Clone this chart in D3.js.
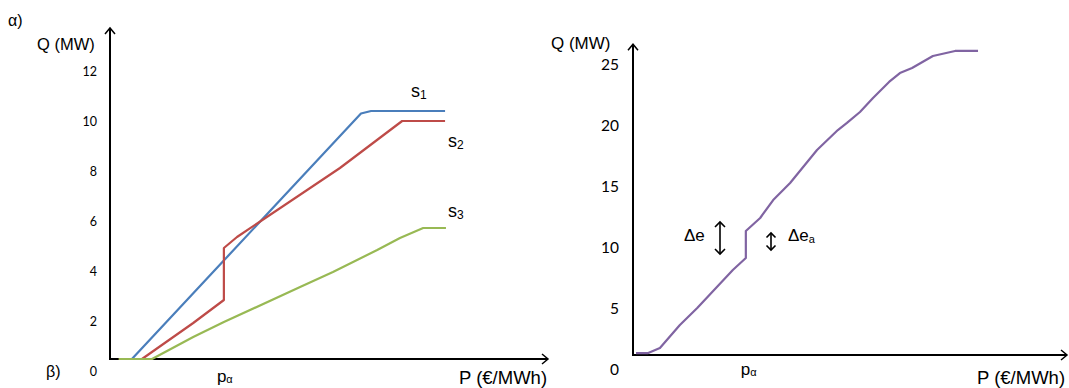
<!DOCTYPE html>
<html>
<head>
<meta charset="utf-8">
<script src="https://cdn.jsdelivr.net/npm/d3@7"></script>
<style>
  body { margin: 0; background: #fff; }
  svg { display: block; }
  .tick text { font-family: Lato, "Open Sans", sans-serif; fill: #000; }
  .lbl { font-family: "Liberation Sans", Arial, sans-serif; fill: #000; }
</style>
</head>
<body>
<svg id="chart" width="1069" height="388"></svg>
<script>
// price is in arbitrary units (no ticks on the P axis), Q in MW

// left panel: three supply curves
const s1P = [2.3, 5.0, 57.3, 59.6, 76.5];
const s1Q = [0.48, 0.48, 10.3, 10.4, 10.4];

const s2P = [2.0, 7.3, 19.0, 26.0, 26.0, 29.0, 52.5, 66.7, 76.5];
const s2Q = [0.48, 0.48, 1.92, 2.84, 4.92, 5.36, 8.12, 10.0, 10.0];

const s3P = [2.0, 9.6, 19.0, 26.0, 43.4, 50.9, 61.0, 66.2, 71.5, 76.7];
const s3Q = [0.48, 0.48, 1.36, 1.96, 3.36, 3.96, 4.84, 5.32, 5.72, 5.72];

const leftTicks = [0, 2, 4, 6, 8, 10, 12];
const leftAxisQ = 0.48; // where the P axis crosses

// right panel: aggregated curve
const aggP = [0.7, 3.5, 6.2, 10.8, 14.8, 23.0, 26.0, 26.0, 29.3, 32.3, 36.2, 42.4,
              47.2, 49.3, 52.3, 55.3, 59.0, 61.5, 64.3, 69.1, 74.2, 79.5];
const aggQ = [1.39, 1.39, 1.80, 3.69, 5.08, 8.20, 9.18, 11.39, 12.46, 13.93, 15.33, 18.03,
              19.67, 20.25, 21.15, 22.30, 23.61, 24.34, 24.75, 25.74, 26.15, 26.15];

const rightTicks = [0, 5, 10, 15, 20, 25];
const rightAxisQ = 1.23;

const pAlpha = 26.0; // price where the step happens

const svg = d3.select("#chart");

// arrow heads for the axes
svg.append("defs").append("marker")
    .attr("id", "arrow")
    .attr("viewBox", "-8 -6 10 12")
    .attr("markerWidth", 10)
    .attr("markerHeight", 12)
    .attr("markerUnits", "userSpaceOnUse")
    .attr("orient", "auto")
    .append("path")
    .attr("d", "M-6,-5 L0,0 L-6,5")
    .attr("fill", "none")
    .attr("stroke", "#000")
    .attr("stroke-width", 1.5);

function zip(ps, qs) {
    return ps.map((p, i) => [p, qs[i]]);
}

// ---------- left panel ----------
const xL = d3.scaleLinear().domain([0, 100]).range([110, 548]);
const yL = d3.scaleLinear().domain([0, 12]).range([371, 71]);

const left = svg.append("g");

left.append("g")
    .attr("transform", `translate(${xL(0)},0)`)
    .call(d3.axisLeft(yL).tickValues(leftTicks).tickSize(0).tickPadding(13))
    .call(g => g.select(".domain").remove())
    .selectAll("text").style("font-size", "12.5px");

// axes with arrows (drawn before the curves, the flat parts sit on top)
left.append("line")
    .attr("x1", xL(0)).attr("y1", yL(leftAxisQ))
    .attr("x2", xL(0)).attr("y2", yL(13.72))
    .attr("stroke", "#000").attr("stroke-width", 2)
    .attr("marker-end", "url(#arrow)");
left.append("line")
    .attr("x1", xL(0) - 1).attr("y1", yL(leftAxisQ))
    .attr("x2", xL(100)).attr("y2", yL(leftAxisQ))
    .attr("stroke", "#000").attr("stroke-width", 2)
    .attr("marker-end", "url(#arrow)");

let lineL = d3.line().x(d => xL(d[0])).y(d => yL(d[1]));

const leftSeries = [
    { data: zip(s1P, s1Q), color: "#4a7ebb" },
    { data: zip(s2P, s2Q), color: "#be4b48" },
    { data: zip(s3P, s3Q), color: "#98b954" }
];

left.selectAll(".series")
    .data(leftSeries)
    .join("path")
    .attr("class", "series")
    .attr("d", d => lineL(d.data))
    .attr("fill", "none")
    .attr("stroke", d => d.color)
    .attr("stroke-width", 2.2)
    .attr("stroke-linejoin", "round");

left.append("text").attr("class", "lbl")
    .attr("x", 8).attr("y", 26).style("font-size", "16px").text("α)");
left.append("text").attr("class", "lbl")
    .attr("x", 37).attr("y", 50).style("font-size", "16.5px").text("Q (MW)");
left.append("text").attr("class", "lbl")
    .attr("x", 46).attr("y", 377).style("font-size", "16px").text("β)");
left.append("text").attr("class", "lbl")
    .attr("x", 459).attr("y", 384).style("font-size", "18.5px").text("P (€/MWh)");

let pa = left.append("text").attr("class", "lbl")
    .attr("x", xL(pAlpha) - 7).attr("y", 382).style("font-size", "17px");
pa.append("tspan").text("p");
pa.append("tspan").attr("dy", 1).style("font-size", "11px").text("α");

const sLabels = [
    { name: "s", sub: "1", x: 411, y: 97 },
    { name: "s", sub: "2", x: 448, y: 147 },
    { name: "s", sub: "3", x: 448, y: 217 }
];
sLabels.forEach(s => {
    let t = left.append("text").attr("class", "lbl")
        .attr("x", s.x).attr("y", s.y).style("font-size", "18px");
    t.append("tspan").text(s.name);
    t.append("tspan").attr("dy", 2).style("font-size", "12px").text(s.sub);
});

// ---------- right panel ----------
const xR = d3.scaleLinear().domain([0, 100]).range([633, 1067]);
const yR = d3.scaleLinear().domain([0, 25]).range([370, 65]);

const right = svg.append("g");

right.append("g")
    .attr("transform", `translate(${xR(0)},0)`)
    .call(d3.axisLeft(yR).tickValues(rightTicks).tickSize(0).tickPadding(14))
    .call(g => g.select(".domain").remove())
    .selectAll("text").style("font-size", "15.5px");

right.append("line")
    .attr("x1", xR(0)).attr("y1", yR(rightAxisQ))
    .attr("x2", xR(0)).attr("y2", yR(26.7))
    .attr("stroke", "#000").attr("stroke-width", 2)
    .attr("marker-end", "url(#arrow)");
right.append("line")
    .attr("x1", xR(0) - 1).attr("y1", yR(rightAxisQ))
    .attr("x2", xR(100)).attr("y2", yR(rightAxisQ))
    .attr("stroke", "#000").attr("stroke-width", 2)
    .attr("marker-end", "url(#arrow)");

let lineR = d3.line().x(d => xR(d[0])).y(d => yR(d[1]));

right.append("path")
    .datum(zip(aggP, aggQ))
    .attr("d", lineR)
    .attr("fill", "none")
    .attr("stroke", "#8064a2")
    .attr("stroke-width", 2.2)
    .attr("stroke-linejoin", "round");

right.append("text").attr("class", "lbl")
    .attr("x", 551).attr("y", 49).style("font-size", "17px").text("Q (MW)");
right.append("text").attr("class", "lbl")
    .attr("x", 977).attr("y", 384).style("font-size", "18.5px").text("P (€/MWh)");

let pa2 = right.append("text").attr("class", "lbl")
    .attr("x", xR(pAlpha) - 5).attr("y", 375).style("font-size", "17px");
pa2.append("tspan").text("p");
pa2.append("tspan").attr("dy", 1).style("font-size", "11px").text("α");

// double arrows for Δe and Δe_a
function dblArrow(x, y1, y2, h) {
    const g = right.append("g")
        .attr("fill", "none").attr("stroke", "#000").attr("stroke-width", 1.6);
    g.append("line").attr("x1", x).attr("y1", y1).attr("x2", x).attr("y2", y2);
    g.append("path").attr("d", `M${x - h},${y1 + h} L${x},${y1} L${x + h},${y1 + h}`);
    g.append("path").attr("d", `M${x - h},${y2 - h} L${x},${y2} L${x + h},${y2 - h}`);
}
dblArrow(720, 222, 254, 5);
dblArrow(771, 233, 250, 4.5);

right.append("text").attr("class", "lbl")
    .attr("x", 684).attr("y", 241).style("font-size", "17px").text("Δe");
let dea = right.append("text").attr("class", "lbl")
    .attr("x", 788).attr("y", 241).style("font-size", "17px");
dea.append("tspan").text("Δe");
dea.append("tspan").attr("dy", 2).style("font-size", "11px").text("a");
</script>
</body>
</html>
